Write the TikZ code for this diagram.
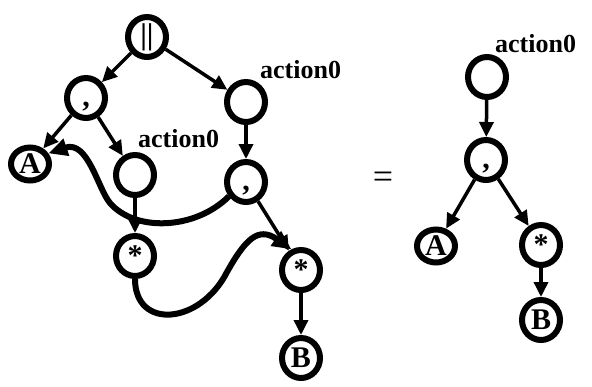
\documentclass[tikz,border=0pt]{standalone}
\usepackage{fontspec}
\setmainfont{Liberation Serif}
\usetikzlibrary{arrows.meta,shapes.geometric}
\newcommand{\lowcomma}{\raisebox{-6pt}[4pt][0pt]{,}}
\begin{document}
\begin{tikzpicture}[x=1pt,y=-1pt,
  tnode/.style={ellipse,draw,line width=6pt,minimum width=38pt,minimum height=40pt,inner sep=0pt,
    font=\fontsize{30}{31}\selectfont\bfseries},
  leaf/.style={tnode,minimum height=33pt},
  lbl/.style={anchor=base west,inner sep=0pt,font=\fontsize{26}{27}\selectfont\bfseries},
  edge/.style={line width=3.5pt,-{Triangle[length=15pt,width=14pt]}},
  curvy/.style={line width=6pt,-{Triangle[length=19pt,width=17pt]}}]
\useasboundingbox (0,0) rectangle (592,386);
% left tree
\node[tnode] (par) at (147,37) {||};
\node[tnode] (c1) at (86,98) {\lowcomma};
\node[tnode] (act1) at (246,102) {};
\node[leaf] (A1) at (30,164) {A};
\node[tnode] (act2) at (135,175) {};
\node[tnode] (c2) at (246,182) {\lowcomma};
\node[tnode] (s1) at (135,256) {*};
\node[tnode] (s2) at (301,270) {*};
\node[tnode] (B1) at (301,358) {B};
\node[lbl] (l1) at (260,78) {action0};
\node[lbl] (l2) at (138,147) {action0};
% equality sign
\node[font=\fontsize{36}{38}\selectfont] (eq) at (383,180) {=};
% right tree
\node[tnode] (act3) at (487,77) {};
\node[tnode] (c3) at (486,160) {\lowcomma};
\node[leaf] (A2) at (436,246) {A};
\node[tnode] (s3) at (541,245) {*};
\node[tnode] (B2) at (541,320) {B};
\node[lbl] (l3) at (495,52) {action0};
% straight edges
\draw[edge] (par) -- (c1);
\draw[edge] (par) -- (act1);
\draw[edge] (c1) -- (A1);
\draw[edge] (c1) -- (act2);
\draw[edge] (act1) -- (c2);
\draw[edge] (act2) -- (s1);
\draw[edge] (c2) -- (s2);
\draw[edge] (s2) -- (B1);
\draw[edge] (act3) -- (c3);
\draw[edge] (c3) -- (A2);
\draw[edge] (c3) -- (s3);
\draw[edge] (s3) -- (B2);
% curved connectors
\draw[curvy] (c2.-140) .. controls (195,230) and (135,232) .. (110,203)
  .. controls (98,189) and (88,140) .. (A1.30);
\draw[curvy] (s1.south) .. controls (135,330) and (200,325) .. (227,272)
  .. controls (245,240) and (258,226) .. (s2.115);
\end{tikzpicture}
\end{document}
